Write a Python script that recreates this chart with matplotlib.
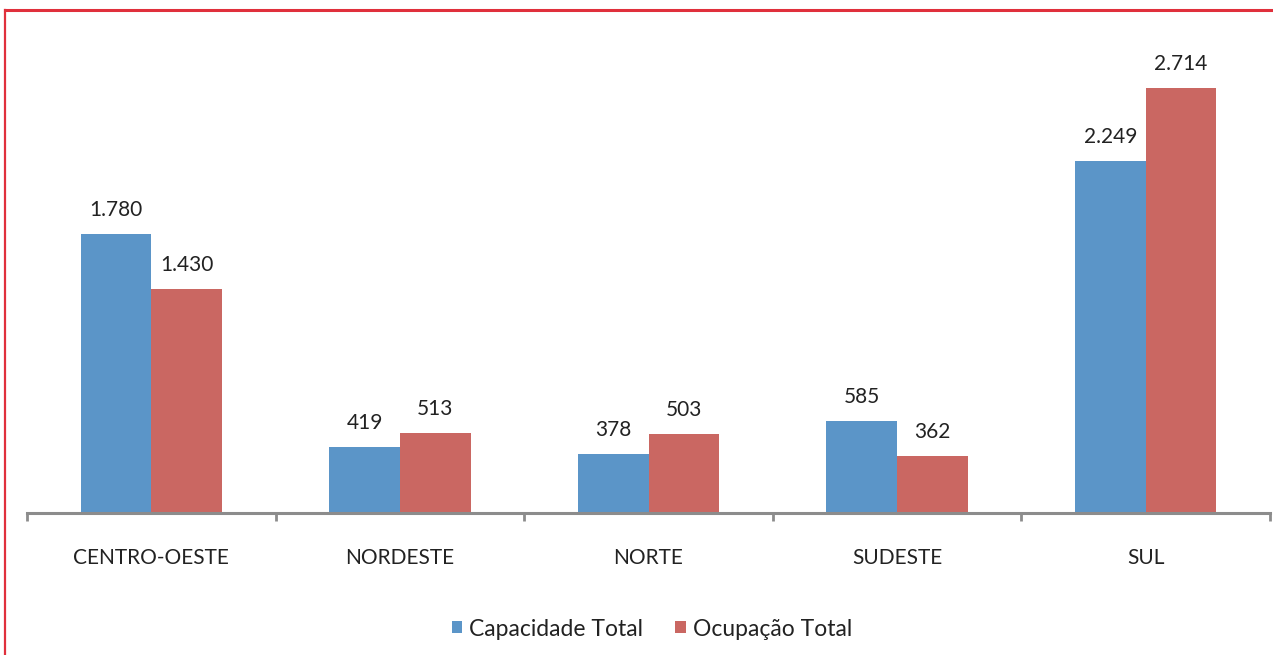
import matplotlib
matplotlib.use('Agg')
import matplotlib.pyplot as plt
from matplotlib.lines import Line2D
import numpy as np

regions = ['CENTRO-OESTE', 'NORDESTE', 'NORTE', 'SUDESTE', 'SUL']
capacidade = [1780, 419, 378, 585, 2249]
ocupacao = [1430, 513, 503, 362, 2714]
series_names = ['Capacidade Total', 'Ocupação Total']

BLUE = '#5B95C8'
RED = '#CA6762'
GRAY = '#8C8C8C'

plt.rcParams['font.family'] = ['Lato', 'DejaVu Sans']

fig = plt.figure(figsize=(12.73, 6.55), dpi=100)
ax = fig.add_axes([27/1273, (655-513)/655, 1243/1273, 470/655])

x = np.arange(len(regions))
w = 0.284
b1 = ax.bar(x - w/2, capacidade, w, color=BLUE, label=series_names[0])
b2 = ax.bar(x + w/2, ocupacao, w, color=RED, label=series_names[1])

def fmt(v):
    return '{:,}'.format(v).replace(',', '.')

for bars, vals in ((b1, capacidade), (b2, ocupacao)):
    for r, v in zip(bars, vals):
        ax.annotate(fmt(v), (r.get_x() + r.get_width()/2, v), xytext=(0, 10),
                    textcoords='offset points', ha='center', va='bottom',
                    fontsize=15, color='#222222')

ax.set_xlim(-0.5, len(regions) - 0.5)
ax.set_ylim(0, 3000)
ax.set_yticks([])
for s in ('top', 'right', 'left'):
    ax.spines[s].set_visible(False)
ax.spines['bottom'].set_color(GRAY)
ax.spines['bottom'].set_linewidth(2.2)

ax.set_xticks(x)
ax.set_xticklabels(regions, fontsize=15, color='#222222')
ax.tick_params(axis='x', which='major', length=0, pad=25)
ax.set_xticks(np.arange(-0.5, len(regions)), minor=True)
ax.tick_params(axis='x', which='minor', length=6, width=2, color=GRAY)

leg = fig.legend(loc='center', bbox_to_anchor=(652/1273, 1 - 629/655), ncol=2,
                 frameon=False, fontsize=16.5, handlelength=0.45, handleheight=0.45,
                 handletextpad=0.3, columnspacing=1.4, labelcolor='#222222')

# red frame lines (top and left) around the chart
fig.add_artist(Line2D([5/1273, 1], [1 - 10/655, 1 - 10/655], transform=fig.transFigure,
                      color='#E0303C', lw=2.2))
fig.add_artist(Line2D([5/1273, 5/1273], [0, 1 - 10/655], transform=fig.transFigure,
                      color='#E0303C', lw=1.6))

fig.savefig('out.png', dpi=100)
